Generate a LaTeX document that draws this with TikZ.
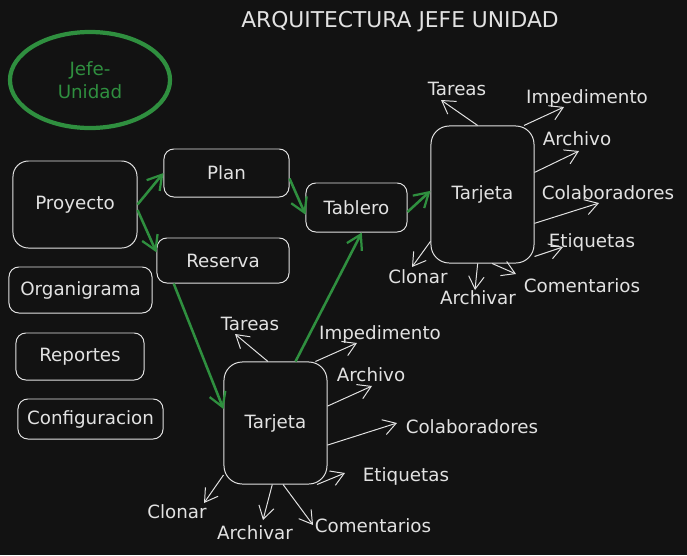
\documentclass[tikz,border=0pt]{standalone}
\usepackage{fontspec}
\setmainfont{DejaVu Sans}
\usepackage{tikz}
\usetikzlibrary{
  arrows.meta,
  positioning,
  shapes.geometric,
  backgrounds
}
\definecolor{bgcolor}{HTML}{121212}
\definecolor{inkcolor}{HTML}{E2E2E2}
\definecolor{flowcolor}{HTML}{2F8F3F}
\newcommand{\handfont}{\fontsize{13}{16.4}\selectfont}

\begin{document}
\begin{tikzpicture}[
  x=0.025cm, y=-0.025cm,
  box/.style={draw=inkcolor, line width=0.7pt, rounded corners=7pt,
              text=inkcolor, font=\handfont, align=center},
  card/.style={box, rounded corners=13pt, minimum width=2.575cm},
  lbl/.style={text=inkcolor, font=\handfont, inner sep=0pt,
              text height=1.6ex, text depth=0pt},
  flow/.style={-{Straight Barb[length=10pt, width=12pt, line width=1.6pt]},
               line width=1.8pt, flowcolor},
  spoke/.style={-{Straight Barb[length=9pt, width=11pt]},
                line width=0.7pt, inkcolor},
]
  % Canvas
  \fill[bgcolor] (0,0) rectangle (687,555);
  \useasboundingbox (0,0) rectangle (687,555);

  \node[text=inkcolor, font=\fontsize{15.5}{18}\selectfont] (title) at (400,22)
    {ARQUITECTURA JEFE UNIDAD};

  % Role
  \node[ellipse, draw=flowcolor, line width=3pt, text=flowcolor,
        minimum width=4cm, minimum height=2.4cm, font=\handfont, align=center]
    (jefe) at (90,80) {Jefe-\\Unidad};

  % Left column
  \node[box, rounded corners=11pt, minimum width=3.1cm, minimum height=2.175cm]
    (proj) at (75,204.5) {Proyecto};
  \node[box, minimum width=3.575cm, minimum height=1.15cm] (organ) at (80.5,290)
    {Organigrama};
  \node[box, minimum width=3.2cm, minimum height=1.175cm] (report) at (80,356.5)
    {Reportes};
  \node[box, minimum width=3.625cm, minimum height=1.0cm] (config) at (90.5,419)
    {Configuracion};

  % Flow
  \node[box, minimum width=3.125cm, minimum height=1.2cm] (plan) at (226.5,173)
    {Plan};
  \node[box, minimum width=3.3cm, minimum height=1.125cm] (res) at (223,260.5)
    {Reserva};
  \node[box, minimum width=2.525cm, minimum height=1.225cm] (tab) at (356.5,207.5)
    {Tablero};
  \node[card, minimum height=3.425cm] (tarjA) at (482.5,194.5) {Tarjeta};
  \node[card, minimum height=3.05cm] (tarjB) at (275.5,423) {Tarjeta};

  \draw[flow] (proj.east) -- (plan.west);
  \draw[flow] (proj.-5) -- (res.173);
  \draw[flow] (plan.-5) -- (tab.188);
  \draw[flow] (res.-155) -- (tarjB.165);
  \draw[flow] (tarjB.72) -- (tab.-78);
  \draw[flow] (tab.-5) -- (tarjA.176);

  % Tarjeta (upper)
  \draw[spoke] (tarjA.94) -- (441,100) coordinate (aTar);
  \draw[spoke] (tarjA.59) -- (564,107) coordinate (aImp);
  \draw[spoke] (tarjA.23) -- (579,151) coordinate (aArc);
  \draw[spoke] (tarjA.-29) -- (599,203) coordinate (aCol);
  \draw[spoke] (tarjA.-50) -- (563,247) coordinate (aEti);
  \draw[spoke] (tarjA.-82) -- (516,274) coordinate (aCom);
  \draw[spoke] (tarjA.-94) -- (475,290) coordinate (aArv);
  \draw[spoke] (tarjA.-138) -- (412,267) coordinate (aClo);

  \node[lbl] (aTarL) at (457,89) {Tareas};
  \node[lbl] (aImpL) at (587,97) {Impedimento};
  \node[lbl] (aArcL) at (577,139) {Archivo};
  \node[lbl] (aColL) at (608,193) {Colaboradores};
  \node[lbl] (aEtiL) at (592,241) {Etiquetas};
  \node[lbl] (aComL) at (582,286) {Comentarios};
  \node[lbl] (aArvL) at (478,298) {Archivar};
  \node[lbl] (aCloL) at (418,277) {Clonar};

  % Tarjeta (lower)
  \draw[spoke] (tarjB.97) -- (235,334) coordinate (bTar);
  \draw[spoke] (tarjB.57) -- (357,343) coordinate (bImp);
  \draw[spoke] (tarjB.18) -- (372,386) coordinate (bArc);
  \draw[spoke] (tarjB.-23) -- (397,423) coordinate (bCol);
  \draw[spoke] (tarjB.-56) -- (345,473) coordinate (bEti);
  \draw[spoke] (tarjB.-83) -- (313,525) coordinate (bCom);
  \draw[spoke] (tarjB.-93) -- (263,520) coordinate (bArv);
  \draw[spoke] (tarjB.-135) -- (204,503) coordinate (bClo);

  \node[lbl] (bTarL) at (250,324) {Tareas};
  \node[lbl] (bImpL) at (380,333) {Impedimento};
  \node[lbl] (bArcL) at (371,375) {Archivo};
  \node[lbl] (bColL) at (472,427) {Colaboradores};
  \node[lbl] (bEtiL) at (406,475) {Etiquetas};
  \node[lbl] (bComL) at (373,526) {Comentarios};
  \node[lbl] (bArvL) at (255,533) {Archivar};
  \node[lbl] (bCloL) at (177,512) {Clonar};

\end{tikzpicture}
\end{document}
